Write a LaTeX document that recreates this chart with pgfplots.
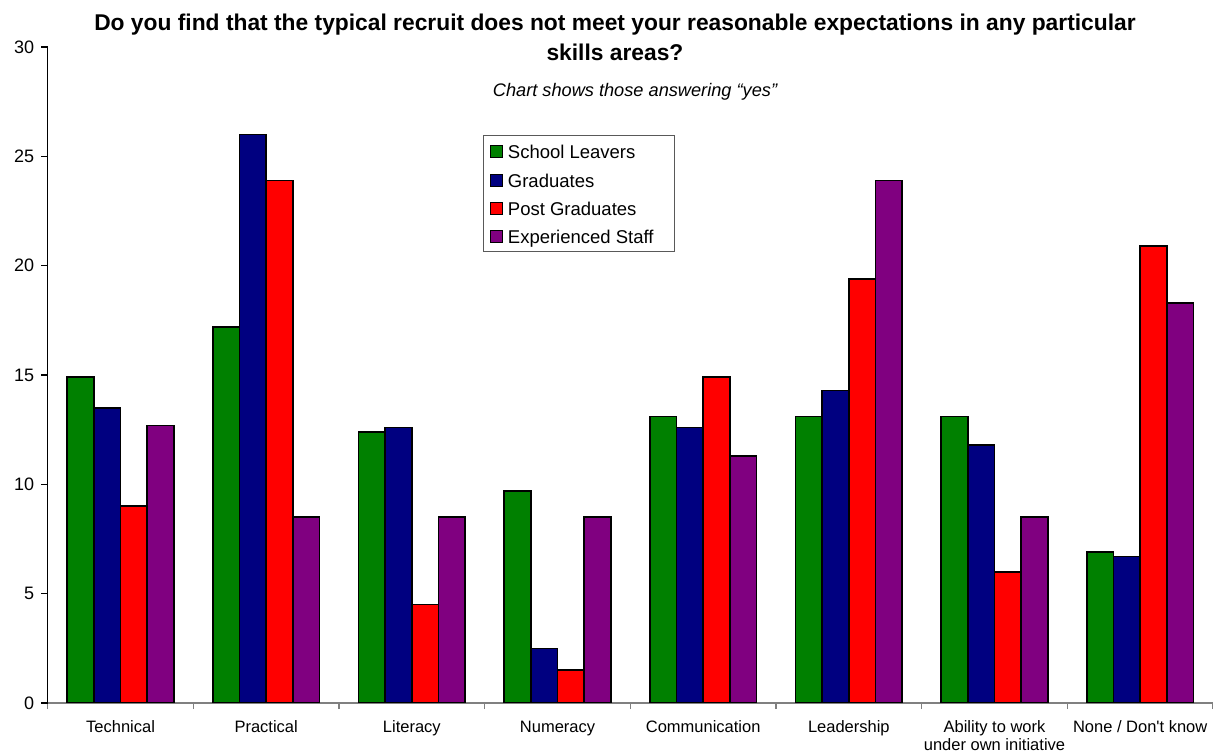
\documentclass[border=0pt]{standalone}
\usepackage{fontspec}
\setmainfont{Liberation Sans}
\usepackage{pgfplots}
\pgfplotsset{compat=1.18}
\definecolor{cGreen}{RGB}{0,128,0}
\definecolor{cNavy}{RGB}{0,0,128}
\definecolor{cRed}{RGB}{255,0,0}
\definecolor{cPurple}{RGB}{128,0,128}
\begin{document}
\begin{tikzpicture}
\begin{axis}[
  at={(0pt,0pt)}, anchor=south west,
  scale only axis, width=582.65pt, height=328pt,
  ymin=0, ymax=30, ytick={0,5,...,30},
  xmin=-0.5, xmax=7.5,
  xtick={0,...,7},
  xticklabels={\strut Technical,\strut Practical,\strut Literacy,\strut Numeracy,\strut Communication,\strut Leadership,{\strut Ability to work\\under own initiative},\strut None / Don\textquotesingle t know},
  minor xtick={-0.5,0.5,...,7.5},
  axis x line*=bottom, axis y line*=left,
  x axis line style={draw=gray, -, line width=0.8pt},
  y axis line style={-, line width=0.6pt},
  tick align=outside,
  major tick length=3.3pt,
  minor tick length=3pt,
  major x tick style={draw=none},
  minor x tick style={draw=gray, line width=0.6pt},
  y tick style={draw=black, line width=0.6pt},
  /pgf/number format/assume math mode=true,
  yticklabel style={font=\fontsize{9}{10}\selectfont},
  xticklabel style={align=center, font=\fontsize{8.25}{9.2}\selectfont, yshift=-1.25pt},
  ybar=0pt, bar width=0.183,
  legend style={at={(0.3733,0.8663)}, anchor=north west, draw=gray!70!black,
    font=\fontsize{9.25}{11}\selectfont, inner xsep=3.3pt, inner ysep=3.2pt,
    nodes={inner sep=0pt, text height=8.6pt, text depth=0.5pt},
    row sep=5.05pt, column sep=2.5pt,
    legend cell align=left},
  legend image code/.code={\draw[#1,draw=black,line width=0.6pt] (0pt,-3.6pt) rectangle (6pt,2.4pt);},
]
\addplot[fill=cGreen, draw=black, line width=0.75pt] coordinates {(0,14.9) (1,17.2) (2,12.4) (3,9.7) (4,13.1) (5,13.1) (6,13.1) (7,6.9)};
\addplot[fill=cNavy, draw=black, line width=0.75pt] coordinates {(0,13.5) (1,26.0) (2,12.6) (3,2.5) (4,12.6) (5,14.3) (6,11.8) (7,6.7)};
\addplot[fill=cRed, draw=black, line width=0.75pt] coordinates {(0,9.0) (1,23.9) (2,4.5) (3,1.5) (4,14.9) (5,19.4) (6,6.0) (7,20.9)};
\addplot[fill=cPurple, draw=black, line width=0.75pt] coordinates {(0,12.7) (1,8.5) (2,8.5) (3,8.5) (4,11.3) (5,23.9) (6,8.5) (7,18.3)};
\legend{School Leavers,Graduates,Post Graduates,\hbox{Experienced Staff\kern7.2pt}}
\end{axis}
\node[font=\bfseries\fontsize{11.4}{15}\selectfont, align=center] at (283.65pt,332.75pt) {Do you find that the typical recruit does not meet your reasonable expectations in any particular\\skills areas?};
\node[font=\itshape\fontsize{9.1}{11}\selectfont] at (293.65pt,305.5pt) {Chart shows those answering “yes”};
\pgfresetboundingbox
\path[use as bounding box] (-23.85pt,-25pt) rectangle (582.65pt,351.5pt);
\end{tikzpicture}
\end{document}
